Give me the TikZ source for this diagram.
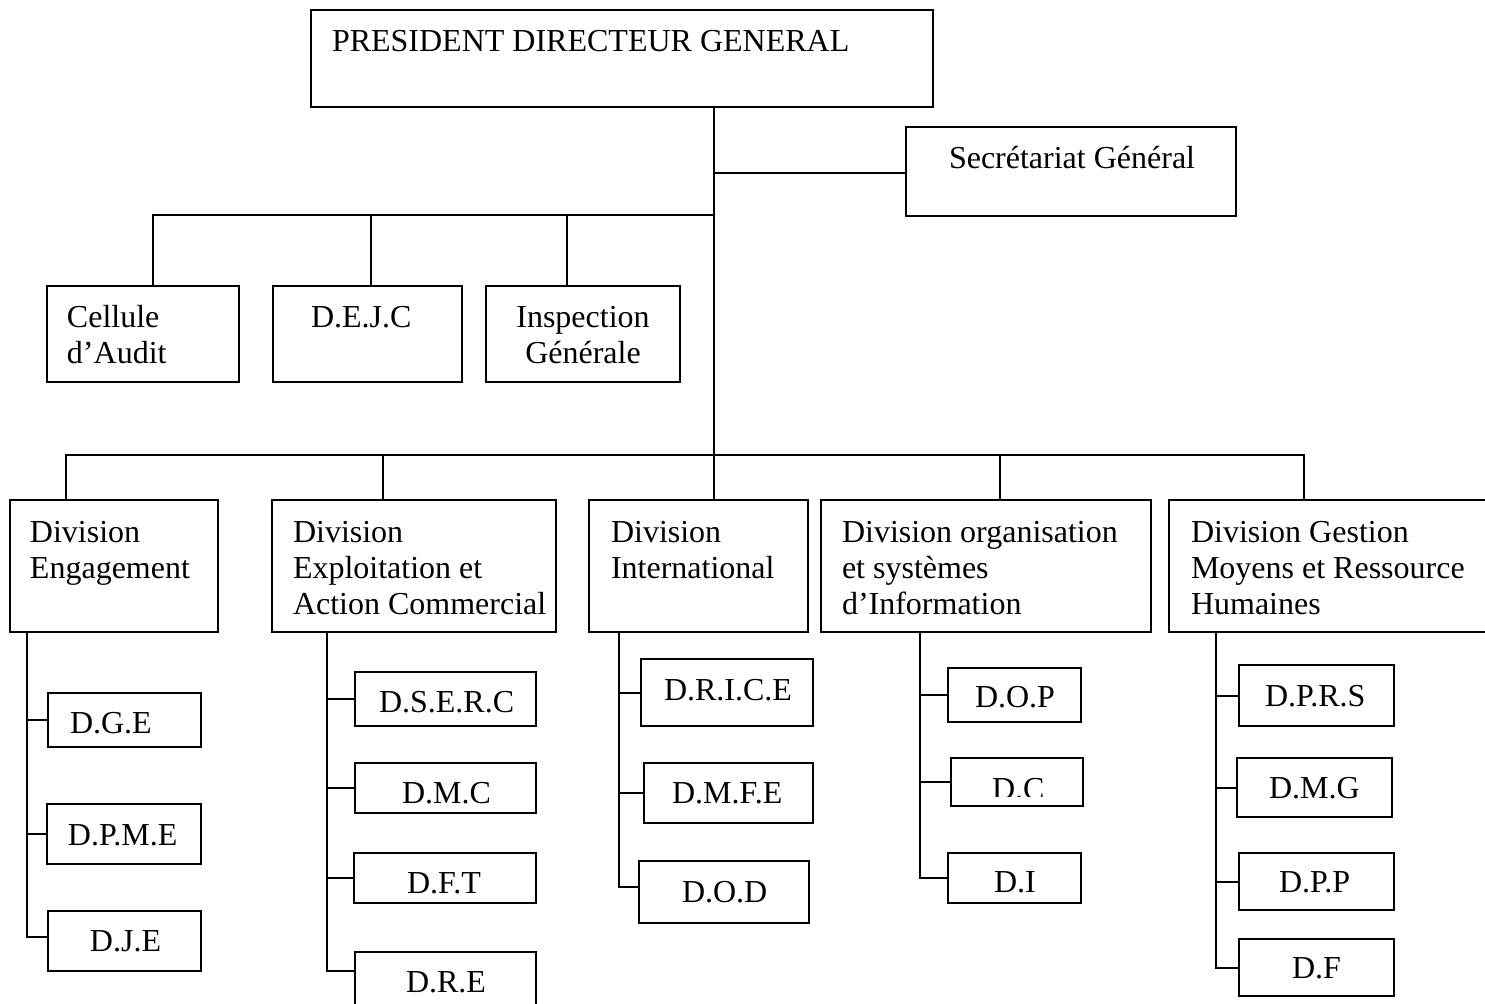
\documentclass[tikz,border=0pt]{standalone}
\usepackage{fontspec}
\setmainfont{Liberation Serif}
\newcommand\mkbox[5]{\node[bx, anchor=north west, minimum width={(#4-#2)*0.5pt}, minimum height={(#5-#3)*0.5pt}] (#1) at (#2,#3) {};}
\newcommand\tl[1]{\begin{tabular}[t]{@{}l@{}}#1\end{tabular}}
\newcommand\tc[1]{\begin{tabular}[t]{@{}c@{}}#1\end{tabular}}
\begin{document}
\begin{tikzpicture}[x=0.5pt,y=-0.5pt,
  bx/.style={draw, line width=1pt, inner sep=0pt, outer sep=0pt},
  txt/.style={inner sep=0pt, outer sep=0pt, anchor=base west, font=\fontsize{16}{18}\selectfont},
  txtc/.style={inner sep=0pt, outer sep=0pt, anchor=base, font=\fontsize{16}{18}\selectfont},
  ln/.style={line width=1pt}]
\useasboundingbox (0,0) rectangle (1485,1003);
\clip (0,0) rectangle (1485,1003);
% boxes
\mkbox{pdg}{311}{10}{933}{107}
\mkbox{sg}{906}{127}{1236}{216}
\mkbox{cel}{47}{286}{239}{382}
\mkbox{dejc}{273}{286}{462}{382}
\mkbox{insp}{486}{286}{680}{382}
\mkbox{dE}{10}{500}{218}{632}
\mkbox{dX}{272}{500}{556}{632}
\mkbox{dI}{589}{500}{808}{632}
\mkbox{dO}{821}{500}{1151}{632}
\mkbox{dG}{1169}{500}{1500}{632}
\mkbox{dge}{48}{693}{201}{747}
\mkbox{dpme}{47}{804}{201}{864}
\mkbox{dje}{48}{911}{201}{971}
\mkbox{dserc}{355}{672}{536}{726}
\mkbox{dmc}{355}{763}{536}{813}
\mkbox{dft}{354}{853}{536}{903}
\mkbox{dre}{355}{952}{536}{1015}
\mkbox{drice}{641}{659}{813}{726}
\mkbox{dmfe}{644}{763}{813}{823}
\mkbox{dod}{639}{861}{809}{923}
\mkbox{dop}{948}{668}{1081}{722}
\mkbox{dc}{951}{758}{1083}{806}
\mkbox{di}{948}{853}{1081}{903}
\mkbox{dprs}{1239}{665}{1394}{726}
\mkbox{dmg}{1237}{758}{1392}{817}
\mkbox{dpp}{1239}{853}{1394}{910}
\mkbox{df}{1239}{939}{1394}{996}
% texts
\node[txt] (tpdg) at (332,51) {PRESIDENT DIRECTEUR GENERAL};
\node[txt] (tsg) at (949,168) {Secrétariat Général};
\node[txt] (tcel) at (67,327) {\tl{Cellule\\d’Audit}};
\node[txt] (tdejc) at (311,327) {D.E.J.C};
\node[txtc] (tinsp) at (583,327) {\tc{Inspection\\Générale}};
\node[txt] (tdE) at (30,542) {\tl{Division\\Engagement}};
\node[txt] (tdX) at (293,542) {\tl{Division\\Exploitation et\\Action Commercial}};
\node[txt] (tdI) at (611,542) {\tl{Division\\International}};
\node[txt] (tdO) at (842,542) {\tl{Division organisation\\et systèmes\\d’Information}};
\node[txt] (tdG) at (1191,542) {\tl{Division Gestion\\Moyens et Ressource\\Humaines}};
\node[txt] (tdge) at (70,733) {D.G.E};
\node[txt] (tdpme) at (68,845) {D.P.M.E};
\node[txt] (tdje) at (90,951) {D.J.E};
\node[txt] (tdserc) at (379,712) {D.S.E.R.C};
\node[txt] (tdmc) at (402,803) {D.M.C};
\node[txt] (tdft) at (407,893) {D.F.T};
\node[txt] (tdre) at (406,992) {D.R.E};
\node[txt] (tdrice) at (664,700) {D.R.I.C.E};
\node[txt] (tdmfe) at (672,803) {D.M.F.E};
\node[txt] (tdod) at (682,902) {D.O.D};
\node[txt] (tdop) at (975,707) {D.O.P};
\begin{scope}
\clip (dc.north west) rectangle ([yshift=5pt]dc.south east);
\node[txt] (tdc) at (992,799) {D.C};
\end{scope}
\node[txt] (tdi) at (994,892) {D.I};
\node[txt] (tdprs) at (1265,706) {D.P.R.S};
\node[txt] (tdmg) at (1269,798) {D.M.G};
\node[txt] (tdpp) at (1279,892) {D.P.P};
\node[txt] (tdf) at (1292,978) {D.F};
% junctions
\coordinate (j1) at (714,173);
\coordinate (j2) at (714,215);
\coordinate (j3) at (714,455);
\draw[ln] (pdg.south -| j1) -- (dI.north -| j1);
\draw[ln] (j1) -- (sg.west |- j1);
% staff
\coordinate (c1) at ([xshift=5pt]cel.north);
\coordinate (c2) at ([xshift=1.75pt]dejc.north);
\coordinate (c3) at ([xshift=-8pt]insp.north);
\draw[ln] (j2) -- (c1 |- j2) -- (c1);
\draw[ln] (c2 |- j2) -- (c2);
\draw[ln] (c3 |- j2) -- (c3);
% divisions
\coordinate (e1) at ([xshift=-24pt]dE.north);
\coordinate (e2) at ([xshift=-15.5pt]dX.north);
\coordinate (e4) at ([xshift=7pt]dO.north);
\coordinate (e5) at ([xshift=-15.25pt]dG.north);
\draw[ln] (e1) -- (e1 |- j3) -- (e5 |- j3) -- (e5);
\draw[ln] (e2 |- j3) -- (e2);
\draw[ln] (e4 |- j3) -- (e4);
% sub-branches
\coordinate (vE) at ([xshift=8.5pt]dE.south west);
\coordinate (vX) at ([xshift=27.5pt]dX.south west);
\coordinate (vI) at ([xshift=15pt]dI.south west);
\coordinate (vO) at ([xshift=49.5pt]dO.south west);
\coordinate (vG) at ([xshift=23.5pt]dG.south west);
\draw[ln] (vE) |- ([yshift=2pt]dje.west);
\draw[ln] (vE |- dge.west) -- (dge.west);
\draw[ln] (vE |- dpme.west) -- (dpme.west);
\draw[ln] (vX) |- ([yshift=6.25pt]dre.west);
\draw[ln] (vX |- dserc.west) -- (dserc.west);
\draw[ln] (vX |- dmc.west) -- (dmc.west);
\draw[ln] (vX |- dft.west) -- (dft.west);
\draw[ln] (vI) |- ([yshift=2.5pt]dod.west);
\draw[ln] (vI |- drice.west) -- (drice.west);
\draw[ln] (vI |- dmfe.west) -- (dmfe.west);
\draw[ln] (vO) |- (di.west);
\draw[ln] (vO |- dop.west) -- (dop.west);
\draw[ln] (vO |- dc.west) -- (dc.west);
\draw[ln] (vG) |- (df.west);
\draw[ln] (vG |- dprs.west) -- (dprs.west);
\draw[ln] (vG |- dmg.west) -- (dmg.west);
\draw[ln] (vG |- dpp.west) -- (dpp.west);
\end{tikzpicture}
\end{document}
